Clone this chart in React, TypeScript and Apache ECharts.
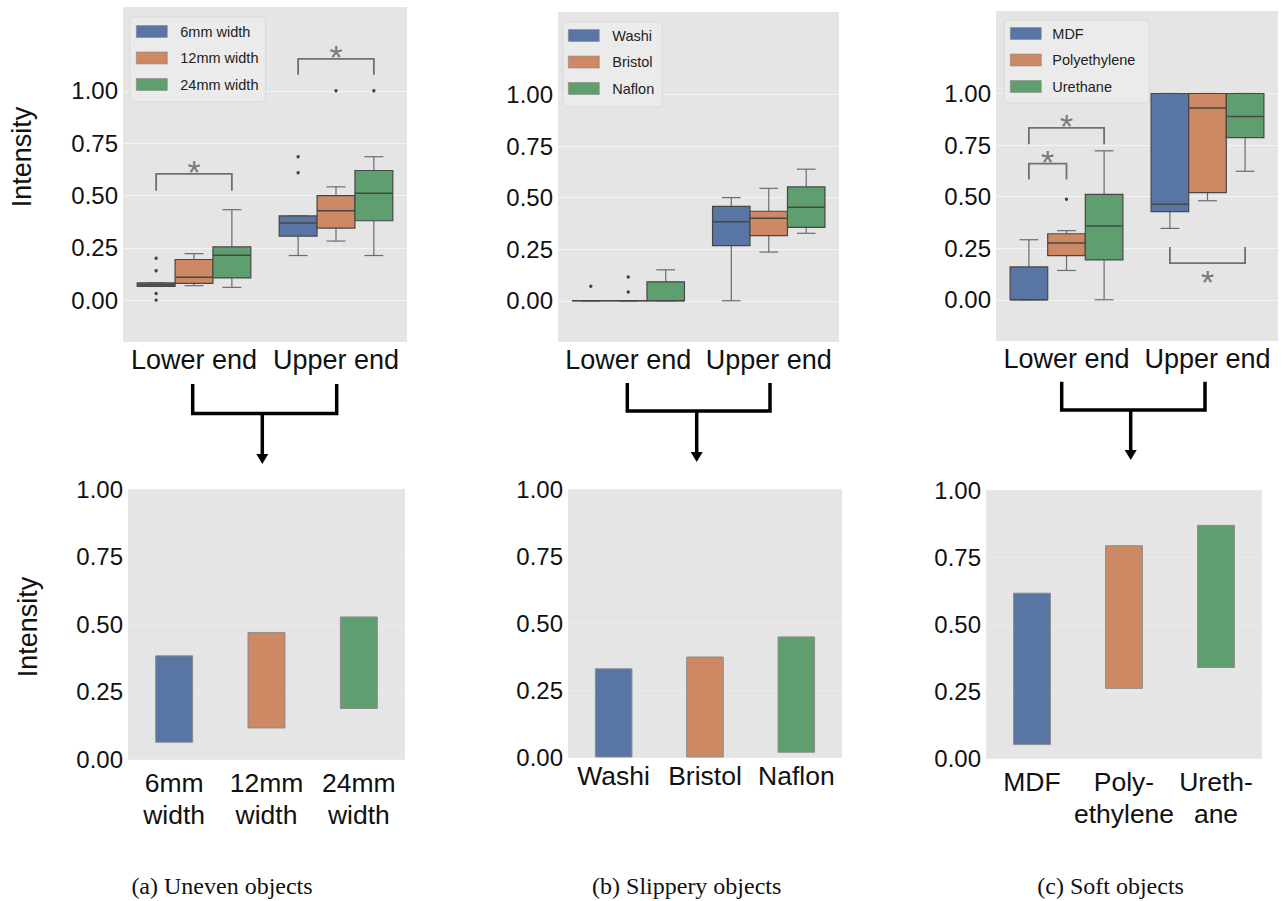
import React, { useEffect, useRef } from 'react';
import * as echarts from 'echarts';

// ---------- data ----------
const COLORS = ['#5975a4', '#cc8963', '#5f9e6e'];
const groupCategories = ['Lower end', 'Upper end'];
const yTicks = [0, 0.25, 0.5, 0.75, 1];

// Panel (a) Uneven objects — box stats [min, q1, median, q3, max] for [Lower end, Upper end]
const hueA = ['6mm width', '12mm width', '24mm width'];
const boxA6 = [[0.066, 0.066, 0.074, 0.082, 0.082], [0.213, 0.306, 0.368, 0.402, 0.402]];
const boxA12 = [[0.069, 0.08, 0.109, 0.194, 0.222], [0.282, 0.344, 0.427, 0.499, 0.541]];
const boxA24 = [[0.061, 0.106, 0.214, 0.254, 0.432], [0.213, 0.379, 0.51, 0.619, 0.685]];
// outliers [category, hue, value]
const outA = [[0, 0, 0.2], [0, 0, 0.14], [0, 0, 0.032], [0, 0, 0.0], [1, 0, 0.685], [1, 0, 0.608], [1, 1, 1.0], [1, 2, 1.0]];
// significance brackets [category, hueFrom, hueTo, barValue, legEndValue]
const sigA = [[0, 0, 2, 0.603, 0.522], [1, 0, 2, 1.152, 1.077]];

// Panel (b) Slippery objects
const hueB = ['Washi', 'Bristol', 'Naflon'];
const boxBWashi = [[0, 0, 0, 0, 0], [0.0, 0.267, 0.383, 0.458, 0.5]];
const boxBBristol = [[0, 0, 0, 0, 0], [0.236, 0.316, 0.4, 0.434, 0.545]];
const boxBNaflon = [[0, 0, 0, 0.092, 0.15], [0.327, 0.356, 0.453, 0.552, 0.638]];
const outB = [[0, 0, 0.07], [0, 1, 0.115], [0, 1, 0.042]];
const sigB: number[][] = [];

// Panel (c) Soft objects
const hueC = ['MDF', 'Polyethylene', 'Urethane'];
const boxCMDF = [[0, 0, 0, 0.159, 0.291], [0.346, 0.427, 0.463, 1.0, 1.0]];
const boxCPoly = [[0.142, 0.214, 0.275, 0.32, 0.335], [0.48, 0.519, 0.93, 1.0, 1.0]];
const boxCUreth = [[0, 0.193, 0.358, 0.511, 0.722], [0.623, 0.786, 0.888, 1.0, 1.0]];
const outC = [[0, 1, 0.487]];
const sigC = [[0, 0, 2, 0.833, 0.754], [0, 0, 1, 0.66, 0.583], [1, 0, 2, 0.178, 0.256]];

// Bottom row: intensity ranges [low, high]
const catA = ['6mm\nwidth', '12mm\nwidth', '24mm\nwidth'];
const lowA = [0.062, 0.115, 0.187];
const highA = [0.382, 0.468, 0.526];
const catB = ['Washi', 'Bristol', 'Naflon'];
const lowB = [0, 0, 0.018];
const highB = [0.329, 0.373, 0.448];
const catC = ['MDF', 'Poly-\nethylene', 'Ureth-\nane'];
const lowC = [0.05, 0.26, 0.338];
const highC = [0.615, 0.792, 0.868];

// ---------- styling ----------
const SANS = '"Liberation Sans", Arial, sans-serif';
const SERIF = '"Liberation Serif", "Times New Roman", serif';
const EDGE = '#474747';
const WHISKER = '#6c6c6c';
const PLOT_BG = '#e5e5e5';

function boxRenderer(hue: number) {
  return (_params: any, api: any) => {
    const cat = api.value(0);
    const mn = api.value(1), q1 = api.value(2), md = api.value(3), q3 = api.value(4), mx = api.value(5);
    const band = api.size([1, 0])[0];
    const w = (band * 0.8) / 3;
    const cx = api.coord([cat, 0])[0] + (hue - 1) * w;
    const Y = (v: number) => api.coord([cat, v])[1];
    const half = w / 2;
    const cap = w / 4;
    const ls = { stroke: WHISKER, lineWidth: 1.2 };
    return {
      type: 'group',
      children: [
        { type: 'line', shape: { x1: cx, y1: Y(q1), x2: cx, y2: Y(mn) }, style: ls },
        { type: 'line', shape: { x1: cx, y1: Y(q3), x2: cx, y2: Y(mx) }, style: ls },
        { type: 'line', shape: { x1: cx - cap, y1: Y(mn), x2: cx + cap, y2: Y(mn) }, style: ls },
        { type: 'line', shape: { x1: cx - cap, y1: Y(mx), x2: cx + cap, y2: Y(mx) }, style: ls },
        {
          type: 'rect',
          shape: { x: cx - half, y: Y(q3), width: w, height: Y(q1) - Y(q3) },
          style: { fill: COLORS[hue], stroke: EDGE, lineWidth: 1.2 },
        },
        { type: 'line', shape: { x1: cx - half, y1: Y(md), x2: cx + half, y2: Y(md) }, style: { stroke: EDGE, lineWidth: 1.5 } },
      ],
    };
  };
}

function outlierRenderer(_params: any, api: any) {
  const cat = api.value(0);
  const hue = api.value(1);
  const v = api.value(2);
  const band = api.size([1, 0])[0];
  const w = (band * 0.8) / 3;
  const p = api.coord([cat, v]);
  return { type: 'circle', shape: { cx: p[0] + (hue - 1) * w, cy: p[1], r: 1.7 }, style: { fill: '#444' } };
}

function sigRenderer(_params: any, api: any) {
  const cat = api.value(0);
  const hA = api.value(1);
  const hB = api.value(2);
  const bar = api.value(3);
  const leg = api.value(4);
  const band = api.size([1, 0])[0];
  const w = (band * 0.8) / 3;
  const c = api.coord([cat, bar]);
  const xA = c[0] + (hA - 1) * w;
  const xB = c[0] + (hB - 1) * w;
  const yBar = c[1];
  const yLeg = api.coord([cat, leg])[1];
  const above = leg < bar;
  return {
    type: 'group',
    children: [
      {
        type: 'polyline',
        shape: { points: [[xA, yLeg], [xA, yBar], [xB, yBar], [xB, yLeg]] },
        style: { stroke: '#707070', lineWidth: 1.8, fill: null },
      },
      {
        type: 'text',
        x: (xA + xB) / 2,
        y: above ? yBar - 1.5 : yBar + 18.5,
        style: {
          text: '*',
          fontSize: 34,
          fontFamily: SANS,
          fill: '#7a7a7a',
          textAlign: 'center',
          align: 'center',
          textVerticalAlign: 'middle',
          verticalAlign: 'middle',
        },
      },
    ],
  };
}

function rangeBarRenderer(colors: string[]) {
  return (_params: any, api: any) => {
    const i = api.value(0);
    const lo = api.value(1);
    const hi = api.value(2);
    const band = api.size([1, 0])[0];
    const w = band * 0.4;
    const pHi = api.coord([i, hi]);
    const pLo = api.coord([i, lo]);
    return {
      type: 'rect',
      shape: { x: pHi[0] - w / 2, y: pHi[1], width: w, height: pLo[1] - pHi[1] },
      style: { fill: colors[i], stroke: '#8a8a8a', lineWidth: 1 },
    };
  };
}

const toBoxData = (rows: number[][]) => rows.map((r, ci) => [ci, ...r]);
const toRangeData = (lo: number[], hi: number[]) => lo.map((l, i) => [i, l, hi[i]]);

function App() {
  const ref = useRef<HTMLDivElement>(null);

  useEffect(() => {
    document.body.style.margin = '0';
    if (!ref.current) return;
    const chart = echarts.init(ref.current, undefined, { renderer: 'svg' });

    const topGrids = [
      { left: 123, top: 7, width: 284, height: 335 },
      { left: 558, top: 12, width: 281, height: 330 },
      { left: 996, top: 11, width: 282, height: 330 },
    ];
    const botGrids = [
      { left: 128, top: 489, width: 277, height: 270 },
      { left: 568, top: 489, width: 274, height: 268 },
      { left: 986, top: 490, width: 276, height: 268 },
    ];
    const grids = [...topGrids, ...botGrids].map((g) => ({
      ...g,
      show: true,
      backgroundColor: PLOT_BG,
      borderWidth: 0,
      containLabel: false,
      outerBoundsMode: 'none',
    }));

    const topX = [0, 1, 2].map((gi) => ({
      type: 'category',
      gridIndex: gi,
      data: groupCategories,
      axisLine: { show: false },
      axisTick: { show: false },
      splitLine: { show: false },
      axisLabel: { fontSize: 27, fontFamily: SANS, color: '#111', margin: 4, interval: 0, hideOverlap: false },
    }));
    const botCats = [catA, catB, catC];
    const botMargins = [8, 3, 8];
    const botX = [0, 1, 2].map((k) => ({
      type: 'category',
      gridIndex: 3 + k,
      data: botCats[k],
      axisLine: { show: false },
      axisTick: { show: false },
      splitLine: { show: false },
      axisLabel: {
        fontSize: 26.5,
        fontFamily: SANS,
        color: '#111',
        margin: botMargins[k],
        lineHeight: 32,
        interval: 0,
        hideOverlap: false,
      },
    }));
    const topY = [0, 1, 2].map((gi) => ({
      type: 'value',
      gridIndex: gi,
      min: -0.2,
      max: 1.4,
      axisLine: { show: false },
      axisTick: { show: false, customValues: yTicks },
      axisLabel: {
        customValues: yTicks,
        formatter: (v: number) => v.toFixed(2),
        fontSize: 24,
        fontFamily: SANS,
        color: '#111',
        margin: 5,
      },
      splitLine: { show: true, lineStyle: { color: '#f4f4f4', width: 1 } },
    }));
    const botY = [0, 1, 2].map((k) => ({
      type: 'value',
      gridIndex: 3 + k,
      min: 0,
      max: 1,
      interval: 0.25,
      axisLine: { show: false },
      axisTick: { show: false },
      axisLabel: {
        formatter: (v: number) => v.toFixed(2),
        fontSize: 24,
        fontFamily: SANS,
        color: '#111',
        margin: 5,
      },
      splitLine: { show: true, lineStyle: { color: '#ebebeb', width: 1 } },
    }));

    const boxSets = [
      { hues: hueA, data: [boxA6, boxA12, boxA24], out: outA, sig: sigA },
      { hues: hueB, data: [boxBWashi, boxBBristol, boxBNaflon], out: outB, sig: sigB },
      { hues: hueC, data: [boxCMDF, boxCPoly, boxCUreth], out: outC, sig: sigC },
    ];

    const series: any[] = [];
    boxSets.forEach((set, gi) => {
      set.hues.forEach((name, h) => {
        series.push({
          type: 'custom',
          name,
          xAxisIndex: gi,
          yAxisIndex: gi,
          itemStyle: { color: COLORS[h] },
          renderItem: boxRenderer(h),
          encode: { x: 0, y: [1, 2, 3, 4, 5] },
          data: toBoxData(set.data[h]),
          z: 3,
        });
      });
      series.push({
        type: 'custom',
        name: 'outliers-' + gi,
        xAxisIndex: gi,
        yAxisIndex: gi,
        renderItem: outlierRenderer,
        encode: { x: 0, y: 2 },
        data: set.out,
        z: 4,
      });
      if (set.sig.length) {
        series.push({
          type: 'custom',
          name: 'sig-' + gi,
          xAxisIndex: gi,
          yAxisIndex: gi,
          renderItem: sigRenderer,
          encode: { x: 0, y: [3, 4] },
          data: set.sig,
          z: 4,
        });
      }
    });

    const ranges = [toRangeData(lowA, highA), toRangeData(lowB, highB), toRangeData(lowC, highC)];
    ranges.forEach((d, k) => {
      series.push({
        type: 'custom',
        name: 'range-' + k,
        xAxisIndex: 3 + k,
        yAxisIndex: 3 + k,
        renderItem: rangeBarRenderer(COLORS),
        encode: { x: 0, y: [1, 2] },
        data: d,
        z: 3,
      });
    });

    const legendBase = {
      orient: 'vertical',
      icon: 'rect',
      itemWidth: 31,
      itemHeight: 12,
      itemGap: 11.5,
      backgroundColor: '#ebebeb',
      borderColor: '#d9d9d9',
      borderWidth: 1,
      borderRadius: 4,
      selectedMode: false,
      itemStyle: { borderColor: '#8a8a8a', borderWidth: 0.6 },
      textStyle: { fontSize: 14.5, fontFamily: SANS, color: '#222', lineHeight: 14, padding: [0, 0, 0, 8] },
    };
    const legends = [
      { ...legendBase, data: hueA, left: 130, top: 17, padding: [7, 7, 10, 6] },
      { ...legendBase, data: hueB, left: 563, top: 22, padding: [6, 8, 11, 5] },
      { ...legendBase, data: hueC, left: 1004, top: 20, padding: [6, 14, 9, 6], textStyle: { ...legendBase.textStyle, padding: [0, 0, 0, 6] } },
    ];

    const connectors = [
      { x1: 192.7, x2: 336.7, yTop: 384, yH: 413.5, xs: 262.3, tip: 464 },
      { x1: 627.3, x2: 770, yTop: 383, yH: 411, xs: 696.7, tip: 462 },
      { x1: 1061.7, x2: 1205, yTop: 381.7, yH: 410, xs: 1130.7, tip: 460 },
    ];
    const graphic: any[] = [];
    connectors.forEach((c) => {
      graphic.push({
        type: 'polyline',
        shape: { points: [[c.x1, c.yTop], [c.x1, c.yH], [c.x2, c.yH], [c.x2, c.yTop]] },
        style: { stroke: '#000', lineWidth: 3.5, fill: null, lineJoin: 'miter' },
      });
      graphic.push({
        type: 'line',
        shape: { x1: c.xs, y1: c.yH, x2: c.xs, y2: c.tip - 8 },
        style: { stroke: '#000', lineWidth: 3.5 },
      });
      graphic.push({
        type: 'polygon',
        shape: { points: [[c.xs - 6, c.tip - 10], [c.xs + 6, c.tip - 10], [c.xs, c.tip]] },
        style: { fill: '#000' },
      });
    });
    const captions = [
      { text: '(a) Uneven objects', x: 222 },
      { text: '(b) Slippery objects', x: 686.7 },
      { text: '(c) Soft objects', x: 1110.6 },
    ];
    captions.forEach((c) => {
      graphic.push({
        type: 'text',
        x: c.x,
        y: 886,
        style: { text: c.text, fontSize: 24, fontFamily: SERIF, fill: '#111', textAlign: 'center', textVerticalAlign: 'middle' },
      });
    });
    [
      { x: 22, y: 157 },
      { x: 28, y: 627 },
    ].forEach((p) => {
      graphic.push({
        type: 'text',
        x: p.x,
        y: p.y,
        rotation: Math.PI / 2,
        style: { text: 'Intensity', fontSize: 27, fontFamily: SANS, fill: '#111', textAlign: 'center', textVerticalAlign: 'middle' },
      });
    });

    chart.setOption({
      animation: false,
      backgroundColor: '#ffffff',
      grid: grids,
      xAxis: [...topX, ...botX],
      yAxis: [...topY, ...botY],
      legend: legends,
      series,
      graphic,
    });

    return () => chart.dispose();
  }, []);

  return <div ref={ref} style={{ width: 1282, height: 901 }} />;
}

export default App;
